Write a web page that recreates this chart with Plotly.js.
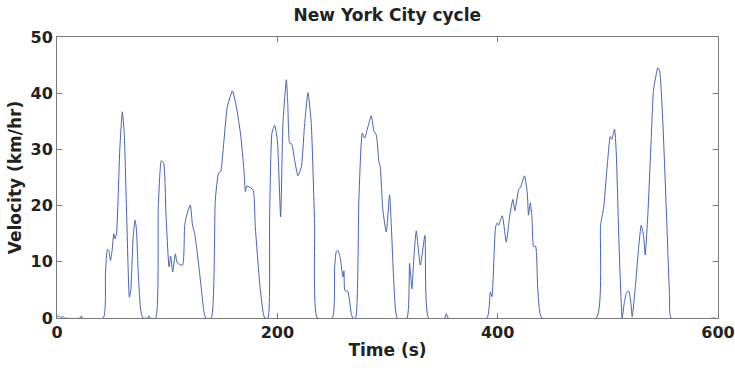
<!DOCTYPE html>
<html>
<head>
<meta charset="utf-8">
<script src="https://cdn.plot.ly/plotly-3.0.1.min.js"></script>
<style>html,body{margin:0;padding:0;background:#fff;}#chart{width:735px;height:368px;}</style>
</head>
<body>
<div id="chart"></div>
<script>
const timeS = [0,2,4,5,7,21,22,23,42,44,45.7,47,48.5,50,51.5,52.6,54,57,59.3,61,63,65.7,67,69,70.8,72,74,76,78,82.5,83.5,84.5,89.6,92,94.7,96.8,99,101.7,103.2,105,107.4,109.2,114,115.9,118,121,123,125,129.5,133.4,135,140,143.7,146.7,148.5,151.6,154.6,159.2,162.8,166.7,169.7,171,172.4,177.9,180,184,187,188.5,191.5,193,195.1,197.5,200,203,205.1,208.2,209.5,211.2,213,215.7,218.7,221.8,224.8,227.8,230.8,233.8,236.3,249.9,252,253.5,255,257.2,259.5,260.5,261.3,264,267.1,268.5,271,274,277.1,279.2,282.2,285.3,287.7,289.8,292.2,293.4,295.8,298.9,301.9,303.4,305.5,308.9,317.6,320,322.2,323.7,326.1,329.8,334,337.3,352,353.4,355,390.2,393.3,394.8,398.1,399.6,400.8,404.2,407.8,410.8,413.8,415.6,419,420.8,424.4,426.9,428,429.6,431.1,432.6,434.4,436.5,440.1,489.5,493.4,496.1,499.5,502.2,503.7,506.1,507.6,510,513,515,517,519,521,522.1,525.1,527.9,530.3,532.4,533.9,536.3,539.4,541.5,545.4,547,549.9,553.5,556,557.5,598];
const velocityKmh = [0.3,0.3,0,0.3,0,0,0.4,0,0,8,12.2,12,10.2,12,15,14.1,15,30,36.7,33,20,3.7,5,14,17.4,16,7,1.4,0,0,0.4,0,0,20,28,27.6,18,9.1,11,8.2,11.4,9.8,9.4,16.5,18.5,20.1,16.5,15,7.9,1.1,0,0,21,25.8,26,31.7,37.6,40.4,37.6,32.6,26.3,22.5,23.5,22.8,16.2,6.1,1.1,0,0,18,32.9,34.3,31.7,18,34.6,42.4,38,31.1,31,28.1,25.3,26.9,34.6,40.1,34.6,16.8,0,0,9,11.8,12,10.6,7.3,8.4,4.9,4.7,0.8,0,0,21,32.9,32,34,36,33.2,32.6,27.8,26.9,19.2,15.3,21.9,16.8,7.3,0,0,9.7,5.2,10,15.5,9.4,14.7,0,0,0.8,0,0,4.6,3.8,16.2,16.9,16.5,18.2,13.5,18,21.1,19.1,22.8,23.3,25.3,22.2,18.3,20.5,18,12.7,12.8,4.9,0,0,16.5,19.5,27.2,32.3,31.8,33.6,29.6,14.2,0,2.8,4.5,4.8,2.5,0.2,5.8,12.4,16.5,14.7,11.2,18.3,32,40.6,44.5,44,34.9,17.1,4,0,0];
const xTicks = [0,200,400,600];
const yTicks = [0,10,20,30,40,50];

const fontFam = 'DejaVu Sans, Verdana, sans-serif';
const trace = {
  x: timeS, y: velocityKmh, type: 'scatter', mode: 'lines',
  line: {color: '#4563b3', width: 1, shape: 'spline', smoothing: 0.5}, hoverinfo: 'skip'
};
const axisCommon = {
  showgrid: false, zeroline: false, showline: true, linecolor: '#7a7a7a', linewidth: 1,
  mirror: 'ticks', ticks: 'inside', ticklen: 5, tickcolor: '#7a7a7a',
  tickfont: {family: fontFam, size: 16, color: '#222', weight: 'bold'}
};
const layout = {
  width: 735, height: 368,
  margin: {l: 57, r: 17, t: 37, b: 50},
  paper_bgcolor: '#fff', plot_bgcolor: '#fff',
  showlegend: false,
  title: {text: 'New York City cycle', x: 0.527, xanchor: 'center', y: 0.975, yanchor: 'top',
          font: {family: fontFam, size: 17, color: '#222', weight: 'bold'}},
  xaxis: Object.assign({}, axisCommon, {range: [0, 600], tickvals: xTicks, ticktext: xTicks.map(String),
          title: {text: 'Time (s)', standoff: 2, font: {family: fontFam, size: 17, color: '#222', weight: 'bold'}}}),
  yaxis: Object.assign({}, axisCommon, {range: [0, 50], tickvals: yTicks, ticktext: yTicks.map(String),
          title: {text: 'Velocity (km/hr)', standoff: 4, font: {family: fontFam, size: 17, color: '#222', weight: 'bold'}}})
};
Plotly.newPlot('chart', [trace], layout, {displayModeBar: false, staticPlot: true});
</script>
</body>
</html>
